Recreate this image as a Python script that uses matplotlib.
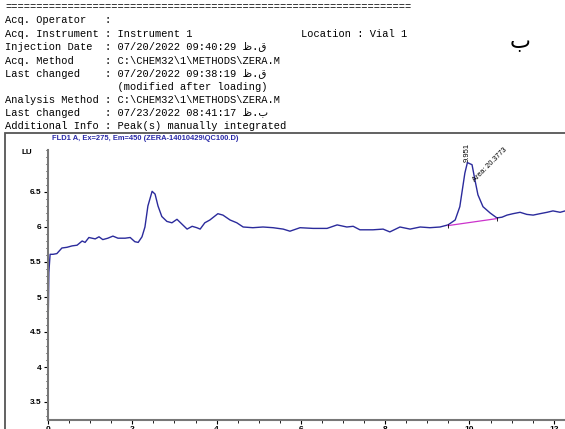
import numpy as np
import matplotlib.pyplot as plt
from matplotlib.patches import Rectangle
from matplotlib.ticker import MultipleLocator, FixedLocator

# ============================
# Datos del cromatograma
# ============================
tiempo = [0.00, 0.02, 0.05, 0.12, 0.21, 0.33, 0.45, 0.57, 0.69, 0.81,
          0.88, 0.97, 1.12, 1.21, 1.30, 1.42, 1.54, 1.66, 1.83, 1.95,
          2.06, 2.14, 2.23, 2.30, 2.37, 2.47, 2.54, 2.61, 2.70, 2.82,
          2.94, 3.06, 3.18, 3.30, 3.42, 3.53, 3.61, 3.72, 3.84, 4.03,
          4.15, 4.32, 4.48, 4.63, 4.86, 5.10, 5.34, 5.58, 5.74, 5.98,
          6.29, 6.62, 6.86, 7.09, 7.24, 7.40, 7.71, 7.95, 8.11, 8.35,
          8.59, 8.83, 9.06, 9.30, 9.49, 9.66, 9.77, 9.89, 9.95, 10.06,
          10.13, 10.20, 10.32, 10.49, 10.65, 10.77, 10.89, 11.03, 11.20, 11.36,
          11.51, 11.67, 11.84, 11.98, 12.15, 12.27]
senal = [4.45, 5.35, 5.61, 5.61, 5.62, 5.70, 5.71, 5.73, 5.74, 5.80,
         5.78, 5.85, 5.83, 5.86, 5.82, 5.84, 5.87, 5.84, 5.84, 5.85,
         5.79, 5.78, 5.86, 6.00, 6.30, 6.51, 6.47, 6.30, 6.15, 6.08,
         6.06, 6.11, 6.04, 5.97, 6.01, 5.99, 5.97, 6.06, 6.10, 6.19,
         6.17, 6.10, 6.06, 6.00, 5.99, 6.00, 5.99, 5.97, 5.94, 5.99,
         5.98, 5.98, 6.03, 6.00, 6.01, 5.96, 5.96, 5.97, 5.93, 6.00,
         5.97, 6.00, 5.99, 6.00, 6.03, 6.10, 6.29, 6.77, 6.92, 6.89,
         6.67, 6.46, 6.29, 6.20, 6.13, 6.14, 6.17, 6.19, 6.21, 6.18,
         6.17, 6.19, 6.21, 6.23, 6.21, 6.23]

# linea base de integracion (inicio, fin)
base_t = [9.49, 10.65]
base_y = [6.02, 6.12]

pico_tr = 9.951
pico_area = 20.3773

encabezado = [
    "Acq. Operator   :",
    "Acq. Instrument : Instrument 1",
    "Injection Date  : 07/20/2022 09:40:29 \u0638.\u0642",
    "Acq. Method     : C:\\CHEM32\\1\\METHODS\\ZERA.M",
    "Last changed    : 07/20/2022 09:38:19 \u0638.\u0642",
    "                  (modified after loading)",
    "Analysis Method : C:\\CHEM32\\1\\METHODS\\ZERA.M",
    "Last changed    : 07/23/2022 08:41:17 \u0638.\u0628",
    "Additional Info : Peak(s) manually integrated",
]
titulo = "FLD1 A, Ex=275, Em=450 (ZERA-14010429\\QC100.D)"

W, H = 565, 429
fig = plt.figure(figsize=(W / 100, H / 100), dpi=100)

def px(x, y):
    return x / W, 1 - y / H

mono = ['Liberation Mono', 'DejaVu Sans']

# Encabezado de texto
fig.text(*px(5, 7), "=" * 65, family=mono, fontsize=7.5, va='center', ha='left')
filas = [20, 34, 47, 61, 74, 87, 100, 113, 126]
for fila, linea in zip(filas, encabezado):
    fig.text(*px(5, fila), linea, family=mono, fontsize=7.5, va='center', ha='left')
fig.text(*px(301, 34), "Location : Vial 1", family=mono, fontsize=7.5, va='center', ha='left')
fig.text(*px(520, 42), "\u0628", family='DejaVu Sans', fontsize=16, va='center', ha='center')

# Marco exterior
fig.patches.append(Rectangle(px(5, 600), 700 / W, (600 - 133) / H, transform=fig.transFigure,
                             fill=False, edgecolor='#555555', linewidth=1.3))
fig.text(*px(52, 138), titulo, family='Liberation Sans', fontsize=5.4, fontweight='bold',
         color='#2a2aa8', va='center', ha='left')
fig.text(*px(27, 152), "LU", family='Liberation Sans', fontsize=5.8, fontweight='bold',
         va='center', ha='center')

# Ejes
x0, x1 = 48, 565
y_top, y_bot = 150, 420
ax = fig.add_axes([x0 / W, 1 - y_bot / H, (x1 - x0) / W, (y_bot - y_top) / H])
ax.set_xlim(0, (x1 - x0) / 42.15)
ax.set_ylim(6 - (y_bot - 227) / 70, 6 + (227 - y_top) / 70)

ax.plot(tiempo, senal, color='#2b2b9c', lw=1.0)
ax.plot(base_t, base_y, color='#cc33cc', lw=0.9)
ax.plot(base_t, base_y, ls='none', marker='|', color='black', ms=3, mew=0.6)

ax.text(pico_tr, 6.93, f"{pico_tr:.3f}", rotation=90, fontsize=5.5, ha='center', va='bottom',
        family='Liberation Sans')
ax.text(10.17, 6.62, f"Area: {pico_area:.4f}", rotation=45, rotation_mode='anchor',
        fontsize=5.2, ha='left', va='bottom', family='Liberation Sans')

for lado in ['top', 'right']:
    ax.spines[lado].set_visible(False)
for lado in ['left', 'bottom']:
    ax.spines[lado].set_color('#777777')
    ax.spines[lado].set_linewidth(1.5)

ax.yaxis.set_major_locator(FixedLocator([3.5, 4, 4.5, 5, 5.5, 6, 6.5]))
ax.yaxis.set_minor_locator(MultipleLocator(0.1))
ax.xaxis.set_major_locator(MultipleLocator(2))
ax.xaxis.set_minor_locator(MultipleLocator(0.5))
ax.set_yticklabels(['3.5', '4', '4.5', '5', '5.5', '6', '6.5'])
ax.tick_params(which='major', length=3, width=0.8, labelsize=6, pad=1.5)
ax.tick_params(which='minor', length=1.8, width=0.6)
for lab in ax.get_yticklabels() + ax.get_xticklabels():
    lab.set_fontweight('bold')
    lab.set_family('Liberation Sans')
ax.patch.set_alpha(0)

fig.savefig("out.png", dpi=100)
